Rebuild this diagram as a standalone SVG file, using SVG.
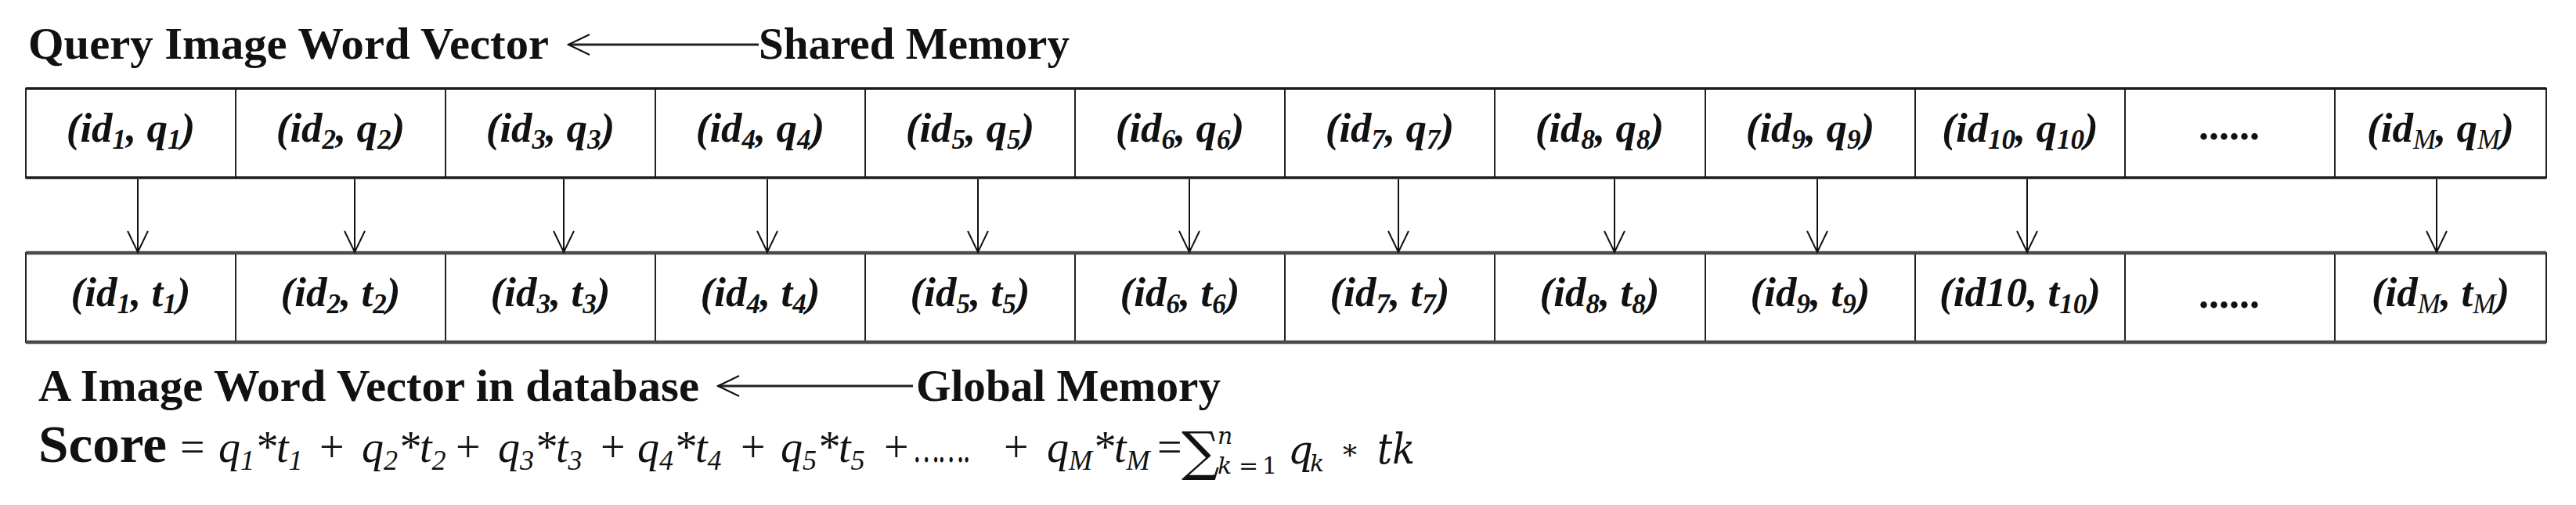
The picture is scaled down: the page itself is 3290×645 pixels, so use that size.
<svg xmlns="http://www.w3.org/2000/svg" width="3290" height="645" viewBox="0 0 3290 645">
<style>
  .bg{fill:#ffffff}
  .cell{fill:#ffffff;stroke:#222;stroke-width:2}
  .rowtop{stroke:#1a1a1a;stroke-width:3.5;fill:none}
  .rowbot{stroke:#4a4a4a;stroke-width:4.5;fill:none}
  .lbl{font-family:"Liberation Serif","Times New Roman",serif;font-weight:bold;font-size:57px;fill:#111}
  .ct{font-family:"Liberation Serif","Times New Roman",serif;font-weight:bold;font-style:italic;font-size:53px;fill:#111;text-anchor:middle}
  .sb{font-size:35px}
  .sbm{font-size:35px;font-weight:normal}
  .dots{font-family:"Liberation Serif","Times New Roman",serif;font-weight:bold;font-size:52px;fill:#111;text-anchor:middle}
  .conn{stroke:#111;stroke-width:2;fill:none}
  .hconn{stroke:#222;stroke-width:3;fill:none}
  .score{font-family:"Liberation Serif","Times New Roman",serif;font-weight:bold;font-size:68px;fill:#111}
  .fi{font-family:"Liberation Serif","Times New Roman",serif;font-style:italic;font-size:56px;fill:#111}
  .fu{font-family:"Liberation Serif","Times New Roman",serif;font-size:56px;fill:#111}
  .fs{font-size:36px}
  .m{font-family:"DejaVu Serif","Liberation Serif",serif;fill:#111}
</style>
<defs>
  <marker id="vh" markerUnits="userSpaceOnUse" viewBox="-30 -15 32 30" refX="0" refY="0" markerWidth="32" markerHeight="30" orient="auto">
    <path d="M-27,-13 L0,0 L-27,13" fill="none" stroke="#111" stroke-width="2"/>
  </marker>
</defs>
<rect class="bg" x="0" y="0" width="3290" height="645"/>

<g id="title-query"><text class="lbl" x="36" y="75" textLength="665" lengthAdjust="spacingAndGlyphs">Query Image Word Vector</text></g>
<g id="label-shared"><text class="lbl" x="969" y="75" textLength="397" lengthAdjust="spacingAndGlyphs">Shared Memory</text></g>

<!-- top row: query vector -->
<g id="q1"><rect class="cell" x="33" y="113" width="268" height="114"/><text class="ct" x="167" y="181">(id<tspan class="sb" dy="9">1</tspan><tspan dy="-9">, q</tspan><tspan class="sb" dy="9">1</tspan><tspan dy="-9">)</tspan></text></g>
<g id="q2"><rect class="cell" x="301" y="113" width="268" height="114"/><text class="ct" x="435" y="181">(id<tspan class="sb" dy="9">2</tspan><tspan dy="-9">, q</tspan><tspan class="sb" dy="9">2</tspan><tspan dy="-9">)</tspan></text></g>
<g id="q3"><rect class="cell" x="569" y="113" width="268" height="114"/><text class="ct" x="703" y="181">(id<tspan class="sb" dy="9">3</tspan><tspan dy="-9">, q</tspan><tspan class="sb" dy="9">3</tspan><tspan dy="-9">)</tspan></text></g>
<g id="q4"><rect class="cell" x="837" y="113" width="268" height="114"/><text class="ct" x="971" y="181">(id<tspan class="sb" dy="9">4</tspan><tspan dy="-9">, q</tspan><tspan class="sb" dy="9">4</tspan><tspan dy="-9">)</tspan></text></g>
<g id="q5"><rect class="cell" x="1105" y="113" width="268" height="114"/><text class="ct" x="1239" y="181">(id<tspan class="sb" dy="9">5</tspan><tspan dy="-9">, q</tspan><tspan class="sb" dy="9">5</tspan><tspan dy="-9">)</tspan></text></g>
<g id="q6"><rect class="cell" x="1373" y="113" width="268" height="114"/><text class="ct" x="1507" y="181">(id<tspan class="sb" dy="9">6</tspan><tspan dy="-9">, q</tspan><tspan class="sb" dy="9">6</tspan><tspan dy="-9">)</tspan></text></g>
<g id="q7"><rect class="cell" x="1641" y="113" width="268" height="114"/><text class="ct" x="1775" y="181">(id<tspan class="sb" dy="9">7</tspan><tspan dy="-9">, q</tspan><tspan class="sb" dy="9">7</tspan><tspan dy="-9">)</tspan></text></g>
<g id="q8"><rect class="cell" x="1909" y="113" width="269" height="114"/><text class="ct" x="2043" y="181">(id<tspan class="sb" dy="9">8</tspan><tspan dy="-9">, q</tspan><tspan class="sb" dy="9">8</tspan><tspan dy="-9">)</tspan></text></g>
<g id="q9"><rect class="cell" x="2178" y="113" width="268" height="114"/><text class="ct" x="2312" y="181">(id<tspan class="sb" dy="9">9</tspan><tspan dy="-9">, q</tspan><tspan class="sb" dy="9">9</tspan><tspan dy="-9">)</tspan></text></g>
<g id="q10"><rect class="cell" x="2446" y="113" width="268" height="114"/><text class="ct" x="2580" y="181">(id<tspan class="sb" dy="9">10</tspan><tspan dy="-9">, q</tspan><tspan class="sb" dy="9">10</tspan><tspan dy="-9">)</tspan></text></g>
<g id="qdots"><rect class="cell" x="2714" y="113" width="268" height="114"/><text class="dots" x="2847" y="178">......</text></g>
<g id="qM"><rect class="cell" x="2982" y="113" width="270" height="114"/><text class="ct" x="3117" y="181">(id<tspan class="sbm" dy="9">M</tspan><tspan dy="-9">, q</tspan><tspan class="sbm" dy="9">M</tspan><tspan dy="-9">)</tspan></text></g>
<g id="row-top-lines"><line class="rowtop" x1="33" y1="113" x2="3252" y2="113"/><line class="rowtop" x1="33" y1="227" x2="3252" y2="227"/></g>

<!-- bottom row: database vector -->
<g id="t1"><rect class="cell" x="33" y="323" width="268" height="114"/><text class="ct" x="167" y="391">(id<tspan class="sb" dy="9">1</tspan><tspan dy="-9">, t</tspan><tspan class="sb" dy="9">1</tspan><tspan dy="-9">)</tspan></text></g>
<g id="t2"><rect class="cell" x="301" y="323" width="268" height="114"/><text class="ct" x="435" y="391">(id<tspan class="sb" dy="9">2</tspan><tspan dy="-9">, t</tspan><tspan class="sb" dy="9">2</tspan><tspan dy="-9">)</tspan></text></g>
<g id="t3"><rect class="cell" x="569" y="323" width="268" height="114"/><text class="ct" x="703" y="391">(id<tspan class="sb" dy="9">3</tspan><tspan dy="-9">, t</tspan><tspan class="sb" dy="9">3</tspan><tspan dy="-9">)</tspan></text></g>
<g id="t4"><rect class="cell" x="837" y="323" width="268" height="114"/><text class="ct" x="971" y="391">(id<tspan class="sb" dy="9">4</tspan><tspan dy="-9">, t</tspan><tspan class="sb" dy="9">4</tspan><tspan dy="-9">)</tspan></text></g>
<g id="t5"><rect class="cell" x="1105" y="323" width="268" height="114"/><text class="ct" x="1239" y="391">(id<tspan class="sb" dy="9">5</tspan><tspan dy="-9">, t</tspan><tspan class="sb" dy="9">5</tspan><tspan dy="-9">)</tspan></text></g>
<g id="t6"><rect class="cell" x="1373" y="323" width="268" height="114"/><text class="ct" x="1507" y="391">(id<tspan class="sb" dy="9">6</tspan><tspan dy="-9">, t</tspan><tspan class="sb" dy="9">6</tspan><tspan dy="-9">)</tspan></text></g>
<g id="t7"><rect class="cell" x="1641" y="323" width="268" height="114"/><text class="ct" x="1775" y="391">(id<tspan class="sb" dy="9">7</tspan><tspan dy="-9">, t</tspan><tspan class="sb" dy="9">7</tspan><tspan dy="-9">)</tspan></text></g>
<g id="t8"><rect class="cell" x="1909" y="323" width="269" height="114"/><text class="ct" x="2043" y="391">(id<tspan class="sb" dy="9">8</tspan><tspan dy="-9">, t</tspan><tspan class="sb" dy="9">8</tspan><tspan dy="-9">)</tspan></text></g>
<g id="t9"><rect class="cell" x="2178" y="323" width="268" height="114"/><text class="ct" x="2312" y="391">(id<tspan class="sb" dy="9">9</tspan><tspan dy="-9">, t</tspan><tspan class="sb" dy="9">9</tspan><tspan dy="-9">)</tspan></text></g>
<g id="t10"><rect class="cell" x="2446" y="323" width="268" height="114"/><text class="ct" x="2580" y="391">(id10, t<tspan class="sb" dy="9">10</tspan><tspan dy="-9">)</tspan></text></g>
<g id="tdots"><rect class="cell" x="2714" y="323" width="268" height="114"/><text class="dots" x="2847" y="393">......</text></g>
<g id="tM"><rect class="cell" x="2982" y="323" width="270" height="114"/><text class="ct" x="3117" y="391">(id<tspan class="sbm" dy="9">M</tspan><tspan dy="-9">, t</tspan><tspan class="sbm" dy="9">M</tspan><tspan dy="-9">)</tspan></text></g>
<g id="row-bottom-lines"><line class="rowbot" x1="33" y1="323" x2="3252" y2="323"/><line class="rowbot" x1="33" y1="437" x2="3252" y2="437"/></g>

<g id="label-image"><text class="lbl" x="49" y="512" textLength="844" lengthAdjust="spacingAndGlyphs">A Image Word Vector in database</text></g>
<g id="label-global"><text class="lbl" x="1170" y="512" textLength="389" lengthAdjust="spacingAndGlyphs">Global Memory</text></g>

<g id="connectors">
  <line class="hconn" x1="969" y1="57" x2="726" y2="57" marker-end="url(#vh)"/>
  <line class="hconn" x1="1166" y1="493" x2="917" y2="493" marker-end="url(#vh)"/>
  <line class="conn" x1="176" y1="229" x2="176" y2="322" marker-end="url(#vh)"/>
  <line class="conn" x1="453" y1="229" x2="453" y2="322" marker-end="url(#vh)"/>
  <line class="conn" x1="720" y1="229" x2="720" y2="322" marker-end="url(#vh)"/>
  <line class="conn" x1="980" y1="229" x2="980" y2="322" marker-end="url(#vh)"/>
  <line class="conn" x1="1249" y1="229" x2="1249" y2="322" marker-end="url(#vh)"/>
  <line class="conn" x1="1519" y1="229" x2="1519" y2="322" marker-end="url(#vh)"/>
  <line class="conn" x1="1786" y1="229" x2="1786" y2="322" marker-end="url(#vh)"/>
  <line class="conn" x1="2062" y1="229" x2="2062" y2="322" marker-end="url(#vh)"/>
  <line class="conn" x1="2321" y1="229" x2="2321" y2="322" marker-end="url(#vh)"/>
  <line class="conn" x1="2589" y1="229" x2="2589" y2="322" marker-end="url(#vh)"/>
  <line class="conn" x1="3112" y1="229" x2="3112" y2="322" marker-end="url(#vh)"/>
</g>

<g id="score-formula">
  <text class="score" x="49" y="590" textLength="164" lengthAdjust="spacingAndGlyphs">Score</text>
  <text class="fu" x="230" y="590">=</text>
  <text class="fi" x="279" y="590">q<tspan class="fs" dy="10">1</tspan><tspan dy="-10">*t</tspan><tspan class="fs" dy="10">1</tspan></text>
  <text class="fu" x="408" y="590">+</text>
  <text class="fi" x="462" y="590">q<tspan class="fs" dy="10">2</tspan><tspan dy="-10">*t</tspan><tspan class="fs" dy="10">2</tspan></text>
  <text class="fu" x="582" y="590">+</text>
  <text class="fi" x="636" y="590">q<tspan class="fs" dy="10">3</tspan><tspan dy="-10">*t</tspan><tspan class="fs" dy="10">3</tspan></text>
  <text class="fu" x="767" y="590">+</text>
  <text class="fi" x="814" y="590">q<tspan class="fs" dy="10">4</tspan><tspan dy="-10">*t</tspan><tspan class="fs" dy="10">4</tspan></text>
  <text class="fu" x="946" y="590">+</text>
  <text class="fi" x="997" y="590">q<tspan class="fs" dy="10">5</tspan><tspan dy="-10">*t</tspan><tspan class="fs" dy="10">5</tspan></text>
  <text class="fu" x="1129" y="590">+</text>
  <text class="fi" x="1168" y="590" textLength="72" lengthAdjust="spacingAndGlyphs">…….</text>
  <text class="fu" x="1282" y="590">+</text>
  <text class="fi" x="1337" y="590">q<tspan class="fs" dy="10">M</tspan><tspan dy="-10">*t</tspan><tspan class="fs" dy="10">M</tspan></text>
  <text class="fu" x="1478" y="590">=</text>
  <text class="m" x="1509" y="600" font-size="68">∑</text>
  <text class="m" x="1555" y="567" font-size="30" font-style="italic">n</text>
  <text class="m" x="1555" y="605" font-size="30" font-style="italic">k</text>
  <text class="m" x="1582" y="605" font-size="30">=</text>
  <text class="m" x="1612" y="605" font-size="30">1</text>
  <text class="m" x="1645" y="592" font-size="50" font-style="italic">q</text>
  <text class="m" x="1673" y="602" font-size="30" font-style="italic">k</text>
  <text class="m" x="1715" y="594" font-size="36">*</text>
  <text class="m" x="1759" y="592" font-size="54" font-style="italic" textLength="48" lengthAdjust="spacingAndGlyphs">tk</text>
</g>
</svg>
